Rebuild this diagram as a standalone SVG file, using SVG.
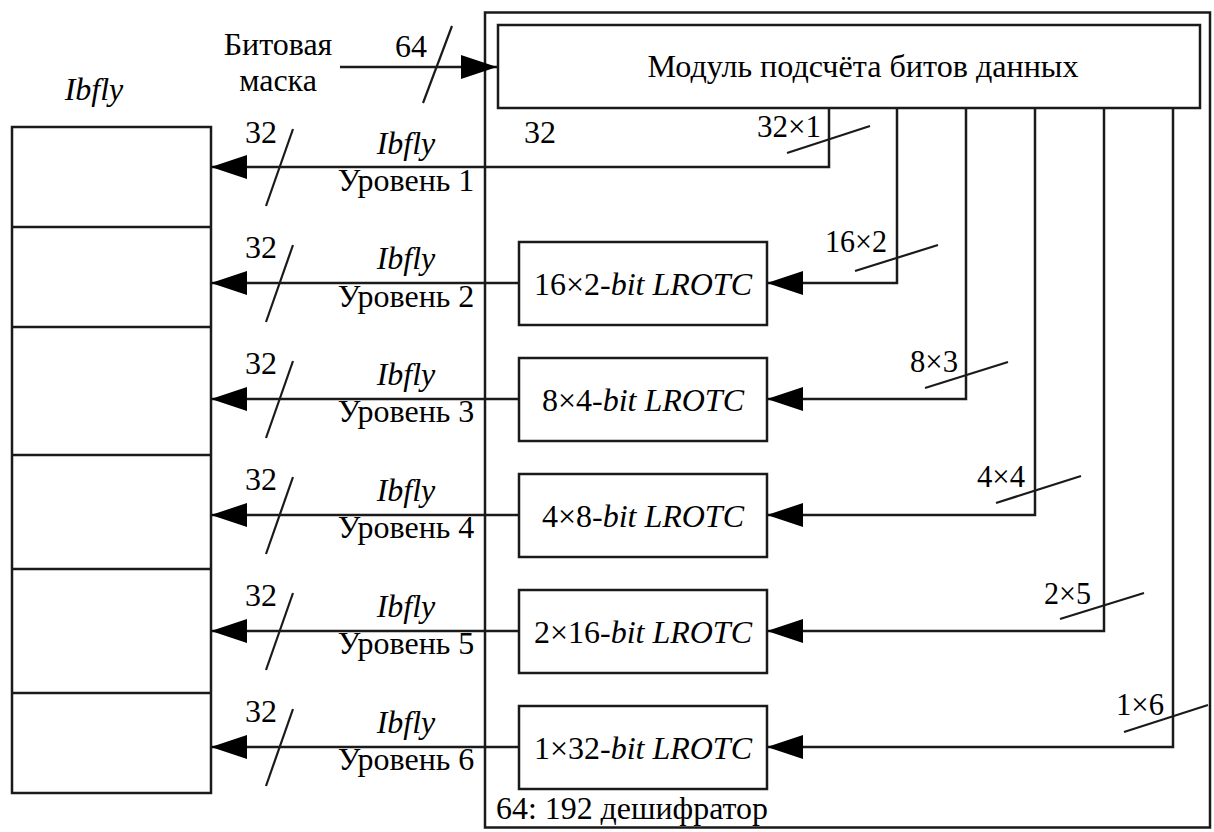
<svg xmlns="http://www.w3.org/2000/svg" width="1214" height="832" viewBox="0 0 1214 832">
<style>
.box{fill:#fff;stroke:#1a1a1a;stroke-width:2.5}
.ln{fill:none;stroke:#1a1a1a;stroke-width:2.5}
.sl{stroke:#1a1a1a;stroke-width:2.2}
text{font-family:"Liberation Serif","Times New Roman",serif;font-size:32px;fill:#000}
.it{font-style:italic}
.m{text-anchor:middle}
</style>
<defs>
<marker id="ah" markerWidth="36" markerHeight="24" refX="36" refY="12" orient="auto" markerUnits="userSpaceOnUse"><path d="M0,0 L36,12 L0,24 z" fill="#000"/></marker>
</defs>
<g id="decoder">
<rect class="box" x="485" y="12.5" width="725" height="815"/>
<text x="496" y="819" textLength="272" lengthAdjust="spacingAndGlyphs">64: 192 дешифратор</text>
<text x="524" y="143">32</text>
</g>
<g id="module">
<rect class="box" x="498" y="25" width="702" height="83"/>
<text class="m" x="863" y="77" textLength="431" lengthAdjust="spacingAndGlyphs">Модуль подсчёта битов данных</text>
</g>
<g id="register">
<rect class="box" x="12" y="127" width="199" height="666"/>
<line class="ln" x1="12" y1="227" x2="211" y2="227"/>
<line class="ln" x1="12" y1="327" x2="211" y2="327"/>
<line class="ln" x1="12" y1="455" x2="211" y2="455"/>
<line class="ln" x1="12" y1="569" x2="211" y2="569"/>
<line class="ln" x1="12" y1="693" x2="211" y2="693"/>
<text class="it m" x="94" y="100">Ibfly</text>
</g>
<g id="mask-label">
<text class="m" x="278" y="55">Битовая</text>
<text class="m" x="278" y="91">маска</text>
</g>
<g id="lrotc2"><rect class="box" x="519" y="242" width="248" height="83"/><text class="m" x="643" y="295" textLength="218" lengthAdjust="spacingAndGlyphs">16×2-<tspan class="it">bit LROTC</tspan></text></g>
<g id="lrotc3"><rect class="box" x="519" y="358" width="248" height="83"/><text class="m" x="643" y="411" textLength="202" lengthAdjust="spacingAndGlyphs">8×4-<tspan class="it">bit LROTC</tspan></text></g>
<g id="lrotc4"><rect class="box" x="519" y="474" width="248" height="83"/><text class="m" x="643" y="527" textLength="202" lengthAdjust="spacingAndGlyphs">4×8-<tspan class="it">bit LROTC</tspan></text></g>
<g id="lrotc5"><rect class="box" x="519" y="590" width="248" height="83"/><text class="m" x="643" y="643" textLength="218" lengthAdjust="spacingAndGlyphs">2×16-<tspan class="it">bit LROTC</tspan></text></g>
<g id="lrotc6"><rect class="box" x="519" y="706" width="248" height="83"/><text class="m" x="643" y="759" textLength="218" lengthAdjust="spacingAndGlyphs">1×32-<tspan class="it">bit LROTC</tspan></text></g>
<g id="connectors">
<path class="ln" d="M340,67 H497" marker-end="url(#ah)"/>
<line class="sl" x1="452" y1="26" x2="423" y2="103"/>
<text x="395" y="57">64</text>

<path class="ln" d="M829,108 V167 H211" marker-end="url(#ah)"/>
<path class="ln" d="M897,108 V283 H767" marker-end="url(#ah)"/>
<path class="ln" d="M966,108 V399 H767" marker-end="url(#ah)"/>
<path class="ln" d="M1035,108 V515 H767" marker-end="url(#ah)"/>
<path class="ln" d="M1104,108 V631 H767" marker-end="url(#ah)"/>
<path class="ln" d="M1173,108 V747 H767" marker-end="url(#ah)"/>
<path class="ln" d="M519,283 H211" marker-end="url(#ah)"/>
<path class="ln" d="M519,399 H211" marker-end="url(#ah)"/>
<path class="ln" d="M519,515 H211" marker-end="url(#ah)"/>
<path class="ln" d="M519,631 H211" marker-end="url(#ah)"/>
<path class="ln" d="M519,747 H211" marker-end="url(#ah)"/>

<line class="sl" x1="787" y1="153" x2="870" y2="126"/><text x="757" y="137" textLength="64" lengthAdjust="spacingAndGlyphs">32×1</text>
<line class="sl" x1="855" y1="271" x2="938" y2="245"/><text x="825" y="252" textLength="62" lengthAdjust="spacingAndGlyphs">16×2</text>
<line class="sl" x1="925" y1="388" x2="1008" y2="362"/><text x="910" y="372" textLength="48" lengthAdjust="spacingAndGlyphs">8×3</text>
<line class="sl" x1="996" y1="503" x2="1081" y2="476"/><text x="977" y="487" textLength="48" lengthAdjust="spacingAndGlyphs">4×4</text>
<line class="sl" x1="1060" y1="619" x2="1144" y2="593"/><text x="1044" y="604" textLength="47" lengthAdjust="spacingAndGlyphs">2×5</text>
<line class="sl" x1="1124" y1="732" x2="1208" y2="705"/><text x="1116" y="715" textLength="48" lengthAdjust="spacingAndGlyphs">1×6</text>

<line class="sl" x1="293" y1="129" x2="266" y2="206"/><text x="245" y="143">32</text>
<line class="sl" x1="293" y1="245" x2="266" y2="322"/><text x="245" y="258">32</text>
<line class="sl" x1="293" y1="361" x2="266" y2="438"/><text x="245" y="374">32</text>
<line class="sl" x1="293" y1="477" x2="266" y2="554"/><text x="245" y="490">32</text>
<line class="sl" x1="293" y1="593" x2="266" y2="670"/><text x="245" y="606">32</text>
<line class="sl" x1="293" y1="709" x2="266" y2="786"/><text x="245" y="722">32</text>

<text class="it m" x="406" y="154">Ibfly</text><text class="m" x="406" y="191">Уровень 1</text>
<text class="it m" x="406" y="269">Ibfly</text><text class="m" x="406" y="307">Уровень 2</text>
<text class="it m" x="406" y="385">Ibfly</text><text class="m" x="406" y="422">Уровень 3</text>
<text class="it m" x="406" y="501">Ibfly</text><text class="m" x="406" y="538">Уровень 4</text>
<text class="it m" x="406" y="617">Ibfly</text><text class="m" x="406" y="654">Уровень 5</text>
<text class="it m" x="406" y="733">Ibfly</text><text class="m" x="406" y="770">Уровень 6</text>
</g>
</svg>
